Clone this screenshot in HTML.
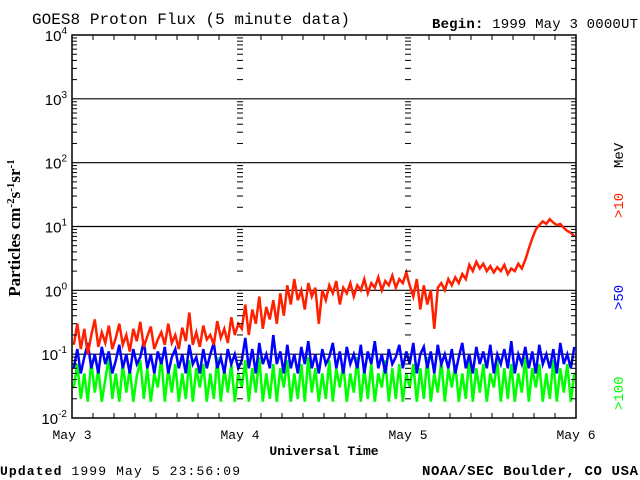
<!DOCTYPE html>
<html><head><meta charset="utf-8"><style>
body{margin:0;background:#fff;}
svg{display:block;}
text{font-family:"Liberation Sans",sans-serif;}
.serif{font-family:"Liberation Serif",serif;}
.mono{font-family:"Liberation Mono",monospace;}
</style></head><body>
<svg width="640" height="480" viewBox="0 0 640 480" id="chart">
<text class="mono" x="32" y="24" font-size="16" textLength="318">GOES8 Proton Flux (5 minute data)</text>
<text class="mono" x="432" y="28" font-size="14" textLength="206"><tspan font-weight="bold">Begin:</tspan> 1999 May 3 0000UT</text>
<text class="mono" x="0" y="475" font-size="13" textLength="240"><tspan font-weight="bold">Updated</tspan> 1999 May  5 23:56:09</text>
<text class="mono" x="422" y="475" font-size="14" font-weight="bold" textLength="216">NOAA/SEC Boulder, CO USA</text>
<text class="mono" x="324" y="455" font-size="13" font-weight="bold" text-anchor="middle">Universal Time</text>
<text class="serif" transform="translate(20,228) rotate(-90)" font-size="17" font-weight="bold" text-anchor="middle">Particles cm<tspan dy="-6" font-size="11">-2</tspan><tspan dy="6">s</tspan><tspan dy="-6" font-size="11">-1</tspan><tspan dy="6">sr</tspan><tspan dy="-6" font-size="11">-1</tspan></text>
<text class="mono" transform="translate(623,218) rotate(-90)" font-size="14" fill="#ff2000">&gt;10</text>
<text class="mono" transform="translate(623,168) rotate(-90)" font-size="14" fill="#000">MeV</text>
<text class="mono" transform="translate(623,310) rotate(-90)" font-size="14" fill="#0000ff">&gt;50</text>
<text class="mono" transform="translate(623,410) rotate(-90)" font-size="14" fill="#00ff00">&gt;100</text>
<g id="axes"></g>
<g id="series"></g>
<g id="frame"></g>
</svg>
<script>
const days = ["May 3","May 4","May 5","May 6"];
const decades = [-2,-1,0,1,2,3,4];
const red = [0.14,0.3,0.12,0.25,0.1,0.2,0.35,0.13,0.22,0.15,0.28,0.12,0.18,0.3,0.14,0.2,0.11,0.25,0.16,0.32,0.13,0.19,0.27,0.12,0.17,0.22,0.14,0.3,0.15,0.2,0.12,0.26,0.16,0.45,0.14,0.22,0.13,0.28,0.17,0.2,0.14,0.33,0.18,0.25,0.15,0.38,0.2,0.3,
0.25,0.6,0.2,0.5,0.3,0.8,0.25,0.55,0.35,0.7,0.3,0.9,0.4,1.2,0.6,1.5,0.7,1.0,0.5,1.3,0.8,1.1,0.3,1.0,0.7,1.2,0.9,1.4,0.6,1.1,0.9,1.3,0.8,1.2,1.0,1.5,0.9,1.3,1.1,1.6,1.0,1.4,1.2,1.7,1.1,1.5,1.3,1.9,
1.2,0.8,1.5,0.5,1.2,0.6,1.0,0.25,1.1,1.3,1.0,1.5,1.2,1.6,1.3,1.8,1.5,2.5,2.0,2.8,2.2,2.6,2.0,2.4,1.9,2.3,2.0,2.5,1.8,2.2,2.0,2.6,2.2,3.0,4.5,6.5,9,10.5,12,11,13,11.5,10.5,11,9.5,8.5,8,7];
const blue = [0.06,0.12,0.05,0.09,0.15,0.06,0.1,0.05,0.13,0.07,0.11,0.05,0.08,0.14,0.06,0.1,0.05,0.12,0.07,0.09,0.16,0.06,0.1,0.05,0.11,0.07,0.13,0.05,0.09,0.12,0.06,0.1,0.05,0.14,0.07,0.09,0.05,0.12,0.06,0.1,0.15,0.06,0.09,0.05,0.12,0.07,0.1,0.06,
0.08,0.18,0.06,0.12,0.05,0.15,0.07,0.1,0.06,0.2,0.07,0.11,0.05,0.14,0.06,0.1,0.05,0.13,0.07,0.16,0.06,0.1,0.05,0.12,0.07,0.09,0.15,0.06,0.11,0.05,0.13,0.07,0.1,0.06,0.14,0.05,0.11,0.07,0.16,0.06,0.1,0.05,0.12,0.07,0.09,0.14,0.06,0.11,
0.07,0.15,0.05,0.1,0.13,0.06,0.11,0.05,0.14,0.07,0.1,0.06,0.12,0.05,0.09,0.15,0.06,0.1,0.05,0.13,0.07,0.11,0.06,0.14,0.05,0.1,0.07,0.12,0.06,0.16,0.05,0.1,0.07,0.13,0.06,0.11,0.05,0.14,0.07,0.1,0.06,0.12,0.05,0.15,0.07,0.1,0.06,0.13];
const green = [0.03,0.07,0.02,0.05,0.018,0.08,0.025,0.06,0.018,0.04,0.09,0.02,0.05,0.018,0.07,0.025,0.06,0.018,0.045,0.08,0.02,0.06,0.018,0.05,0.03,0.09,0.018,0.06,0.025,0.07,0.018,0.05,0.02,0.08,0.018,0.06,0.03,0.07,0.018,0.05,0.02,0.09,0.018,0.06,0.025,0.07,0.018,0.05,
0.03,0.08,0.018,0.06,0.025,0.09,0.018,0.05,0.02,0.07,0.018,0.06,0.03,0.08,0.018,0.05,0.02,0.07,0.018,0.09,0.025,0.06,0.018,0.05,0.02,0.08,0.018,0.06,0.03,0.07,0.018,0.05,0.025,0.09,0.018,0.06,0.02,0.07,0.018,0.05,0.03,0.08,0.018,0.06,0.02,0.07,0.018,0.05,
0.03,0.07,0.018,0.06,0.02,0.09,0.018,0.05,0.025,0.08,0.018,0.06,0.03,0.07,0.018,0.05,0.02,0.09,0.018,0.06,0.025,0.07,0.018,0.05,0.03,0.08,0.018,0.06,0.02,0.07,0.018,0.05,0.025,0.09,0.018,0.06,0.03,0.07,0.018,0.05,0.02,0.08,0.018,0.06,0.025,0.07,0.018,0.05];

const X0=72, X1=576, Y0=418, Y1=35;
const NS="http://www.w3.org/2000/svg";
function xScale(d){return X0+(X1-X0)*d/3;}
function yScale(v){return Y0-(Math.log10(v)+2)*(Y0-Y1)/6;}
function mk(tag,attrs,parent){const e=document.createElementNS(NS,tag);for(const k in attrs)e.setAttribute(k,attrs[k]);parent.appendChild(e);return e;}
const axes=document.getElementById('axes'), frame=document.getElementById('frame'), series=document.getElementById('series');

decades.forEach(p=>{
  const y=yScale(Math.pow(10,p));
  if(p>-2&&p<4){const l=mk('line',{x1:X0,x2:X1,y1:y,y2:y,stroke:'#000','stroke-width':1.2},axes);
  
  }
  const t=mk('text',{x:X0-5,y:y+6,'font-size':15,'text-anchor':'end'},frame);
  
  
  t.textContent='10';
  const s=mk('tspan',{dy:-7,'font-size':10},t); s.textContent=String(p);
  if(p<4){for(let m=2;m<=9;m++){const ym=yScale(m*Math.pow(10,p));
    [X0,xScale(1),xScale(2),X1].forEach((xx,i)=>{
      const len=5;
      const x1=i===3?xx-len:(i===0?xx:xx-3), x2=i===3?xx:(i===0?xx+len:xx+3);
      mk('line',{x1:x1,x2:x2,y1:ym,y2:ym,stroke:'#000','stroke-width':1},frame);
    });}}
});
days.forEach((d,i)=>{
  const x=xScale(i);
  const t=mk('text',{x:x,y:439,'font-size':13,'text-anchor':'middle','class':'mono'},frame);
  
  
  t.textContent=d;
});
for(let h=0;h<=72;h+=3){const x=xScale(h/24);
  const len=(h%24===0)?0:5;
  mk('line',{x1:x,x2:x,y1:Y0,y2:Y0-len,stroke:'#000'},frame);
  mk('line',{x1:x,x2:x,y1:Y1,y2:Y1+len,stroke:'#000'},frame);}
function draw(arr,color,name){
  const n=arr.length;
  const pts=arr.map((v,i)=>xScale(3*(i+0.5)/n).toFixed(1)+','+yScale(v).toFixed(1)).join(' ');
  const pl=mk('polyline',{points:pts,fill:'none',stroke:color,'stroke-width':2.5,'stroke-linejoin':'miter'},series);
  
  
}
draw(green,'#00ff00','series-100mev');
draw(blue,'#0000ff','series-50mev');
draw(red,'#ff2000','series-10mev');
const r=mk('rect',{x:X0,y:Y1,width:X1-X0,height:Y0-Y1,fill:'none',stroke:'#000','stroke-width':1.5},frame);


</script>
</body></html>
